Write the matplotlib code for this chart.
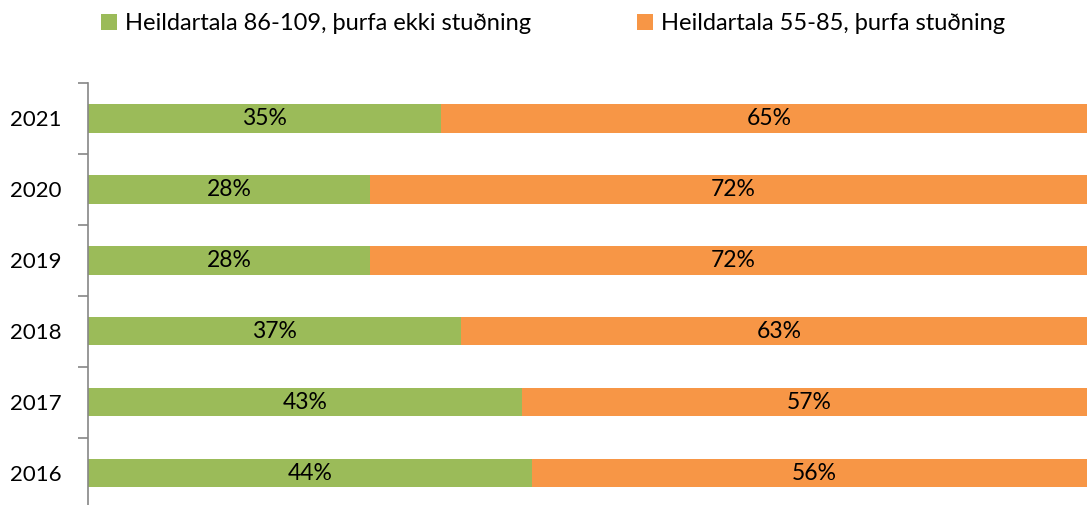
import matplotlib
matplotlib.use("Agg")
import matplotlib.pyplot as plt
import numpy as np

YEARS = ['2016', '2017', '2018', '2019', '2020', '2021']
NO_SUPPORT = [44, 43, 37, 28, 28, 35]
SUPPORT = [56, 57, 63, 72, 72, 65]
LABELS = ['Heildartala 86-109, þurfa ekki stuðning', 'Heildartala 55-85, þurfa stuðning']

GREEN = '#9BBB59'
ORANGE = '#F79646'
GREY = '#868686'

plt.rcParams['font.family'] = ['Lato', 'DejaVu Sans']

fig = plt.figure(figsize=(10.87, 5.05), dpi=100)
ax = fig.add_axes([0.081, -0.007, 0.928, 0.8426])

y = np.arange(len(YEARS))
b1 = ax.barh(y, NO_SUPPORT, height=0.4, color=GREEN, label=LABELS[0])
b2 = ax.barh(y, SUPPORT, left=NO_SUPPORT, height=0.4, color=ORANGE, label=LABELS[1])

for bars in (b1, b2):
    for rect in bars:
        w = rect.get_width()
        ax.text(rect.get_x() + w / 2, rect.get_y() + rect.get_height() / 2,
                '{:.0f}%'.format(w), ha='center', va='center', fontsize=16.5, color='black')

ax.set_xlim(0, 100)
ax.set_ylim(-0.5, len(YEARS) - 0.5)
ax.set_yticks(y)
ax.set_yticklabels(YEARS, fontsize=16)
ax.set_xticks([])
ax.set_yticks(np.arange(len(YEARS) + 1) - 0.5, minor=True)
ax.tick_params(axis='y', which='major', length=0, pad=19)
ax.tick_params(axis='y', which='minor', length=7, color=GREY, width=1.2)

for name, spine in ax.spines.items():
    spine.set_visible(name == 'left')
ax.spines['left'].set_color(GREY)
ax.spines['left'].set_linewidth(1.2)

fig.legend(handles=[b1, b2], loc='center left', bbox_to_anchor=(0.0845, 0.953),
           ncol=2, frameon=False, fontsize=17, handlelength=0.65, handleheight=0.65,
           handletextpad=0.35, columnspacing=4.5, borderaxespad=0)

fig.savefig('out.png', dpi=100)
